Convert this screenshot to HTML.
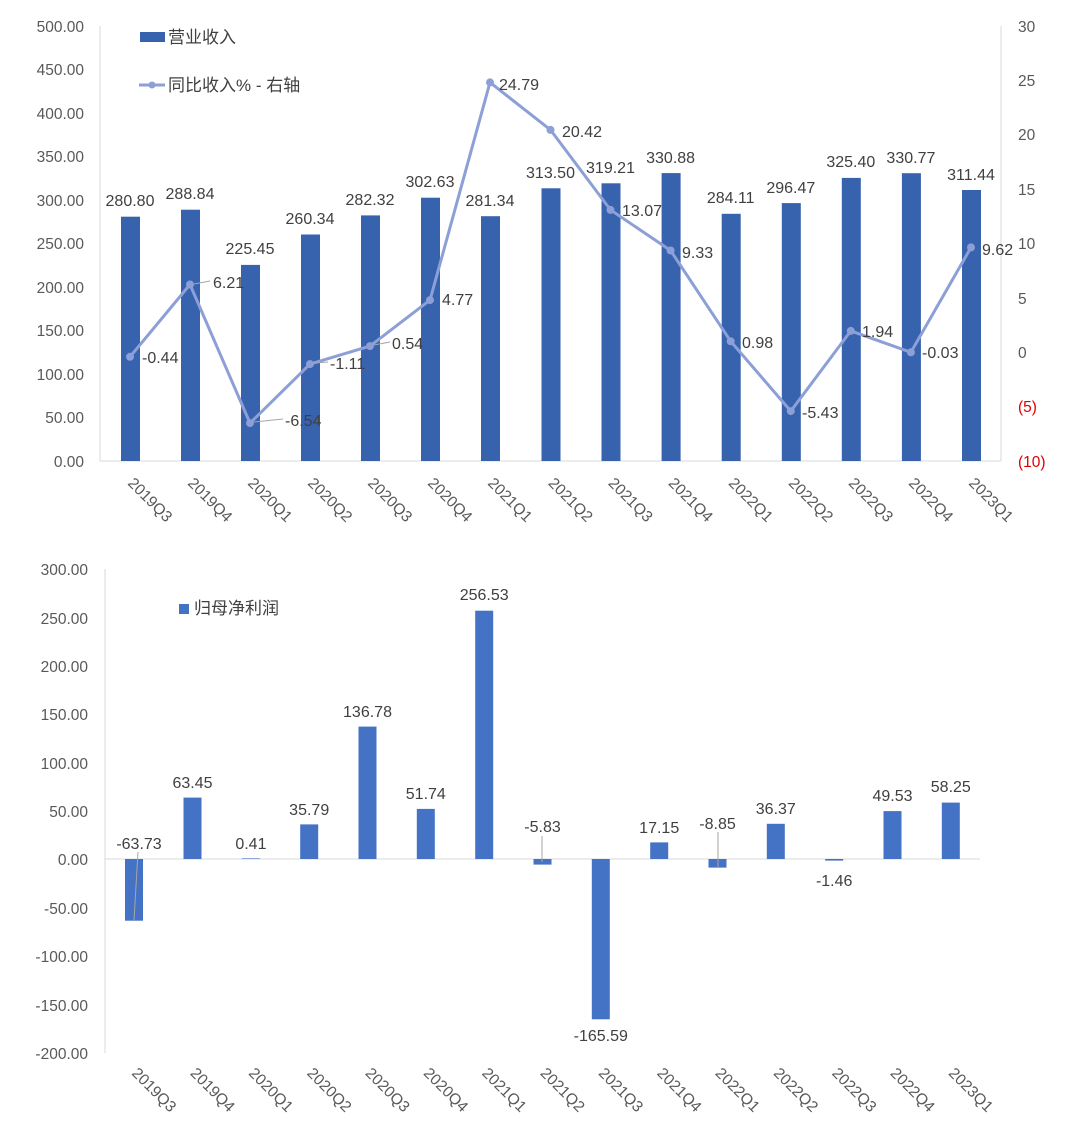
<!DOCTYPE html>
<html><head><meta charset="utf-8"><style>
html,body{margin:0;padding:0;background:#fff;}
svg{display:block;font-family:"Liberation Sans","Noto Sans CJK SC",sans-serif;}
.t{fill:#404040;font-size:16px;}
.ax{fill:#595959;font-size:15.5px;}
</style></head><body>
<svg width="1080" height="1130" viewBox="0 0 1080 1130" xmlns="http://www.w3.org/2000/svg">
<!-- TOP CHART -->
<line x1="100" y1="26" x2="100" y2="461" stroke="#d9d9d9"/>
<line x1="1001" y1="26" x2="1001" y2="461" stroke="#d9d9d9"/>
<line x1="100" y1="461" x2="1001" y2="461" stroke="#d9d9d9"/>
<g class="ax" text-anchor="end">
<text x="84" y="32">500.00</text><text x="84" y="75">450.00</text><text x="84" y="119">400.00</text><text x="84" y="162">350.00</text><text x="84" y="206">300.00</text><text x="84" y="249">250.00</text><text x="84" y="293">200.00</text><text x="84" y="336">150.00</text><text x="84" y="380">100.00</text><text x="84" y="423">50.00</text><text x="84" y="467">0.00</text>
</g>
<g class="ax">
<text x="1018" y="32">30</text><text x="1018" y="86">25</text><text x="1018" y="140">20</text><text x="1018" y="195">15</text><text x="1018" y="249">10</text><text x="1018" y="304">5</text><text x="1018" y="358">0</text>
<text x="1018" y="412" fill="#e00000">(5)</text><text x="1018" y="467" fill="#e00000">(10)</text>
</g>
<g fill="#3762AE">
<rect x="121" y="216.7" width="19" height="244.3"/>
<rect x="181" y="209.7" width="19" height="251.3"/>
<rect x="241" y="264.9" width="19" height="196.1"/>
<rect x="301" y="234.5" width="19" height="226.5"/>
<rect x="361" y="215.4" width="19" height="245.6"/>
<rect x="421" y="197.7" width="19" height="263.3"/>
<rect x="481" y="216.2" width="19" height="244.8"/>
<rect x="541.5" y="188.3" width="19" height="272.7"/>
<rect x="601.5" y="183.3" width="19" height="277.7"/>
<rect x="661.6" y="173.1" width="19" height="287.9"/>
<rect x="721.7" y="213.8" width="19" height="247.2"/>
<rect x="781.8" y="203.1" width="19" height="257.9"/>
<rect x="841.8" y="177.9" width="19" height="283.1"/>
<rect x="901.9" y="173.2" width="19" height="287.8"/>
<rect x="962" y="190" width="19" height="271"/>
</g>
<g class="t" text-anchor="middle">
<text x="130" y="206">280.80</text><text x="190" y="199">288.84</text><text x="250" y="254">225.45</text><text x="310" y="224">260.34</text><text x="370" y="205">282.32</text><text x="430" y="187">302.63</text><text x="490" y="206">281.34</text><text x="550.5" y="178">313.50</text><text x="610.5" y="173">319.21</text><text x="670.6" y="163">330.88</text><text x="730.7" y="203">284.11</text><text x="790.8" y="193">296.47</text><text x="850.8" y="167">325.40</text><text x="910.9" y="163">330.77</text><text x="971" y="180">311.44</text>
</g>
<polyline fill="none" stroke="#8C9FD6" stroke-width="3" stroke-linejoin="round" points="130,356.8 190,284.5 250,423.1 310,364.1 370,346.1 430,300.1 490,82.4 550.5,129.9 610.5,209.9 670.6,250.5 730.7,341.3 790.8,411.1 850.8,330.9 910.9,352.3 971,247.4"/>
<g fill="#8C9FD6">
<circle cx="130" cy="356.8" r="4"/><circle cx="190" cy="284.5" r="4"/><circle cx="250" cy="423.1" r="4"/><circle cx="310" cy="364.1" r="4"/><circle cx="370" cy="346.1" r="4"/><circle cx="430" cy="300.1" r="4"/><circle cx="490" cy="82.4" r="4"/><circle cx="550.5" cy="129.9" r="4"/><circle cx="610.5" cy="209.9" r="4"/><circle cx="670.6" cy="250.5" r="4"/><circle cx="730.7" cy="341.3" r="4"/><circle cx="790.8" cy="411.1" r="4"/><circle cx="850.8" cy="330.9" r="4"/><circle cx="910.9" cy="352.3" r="4"/><circle cx="971" cy="247.4" r="4"/>
</g>
<g stroke="#a6a6a6" fill="none"><line x1="194" y1="284" x2="210" y2="281"/><line x1="254" y1="422" x2="283" y2="419"/><line x1="314" y1="363" x2="328" y2="362"/><line x1="374" y1="345" x2="390" y2="342"/></g>
<g class="t">
<text x="142" y="363">-0.44</text><text x="213" y="288">6.21</text><text x="285" y="426">-6.54</text><text x="330" y="369">-1.11</text><text x="392" y="349">0.54</text><text x="442" y="305">4.77</text><text x="499" y="90">24.79</text><text x="562" y="137">20.42</text><text x="622" y="216">13.07</text><text x="682" y="258">9.33</text><text x="742" y="348">0.98</text><text x="802" y="418">-5.43</text><text x="862" y="337">1.94</text><text x="922" y="358">-0.03</text><text x="982" y="255">9.62</text>
</g>
<g class="ax">
<text transform="translate(127,484) rotate(45)">2019Q3</text>
<text transform="translate(187,484) rotate(45)">2019Q4</text>
<text transform="translate(247,484) rotate(45)">2020Q1</text>
<text transform="translate(307,484) rotate(45)">2020Q2</text>
<text transform="translate(367,484) rotate(45)">2020Q3</text>
<text transform="translate(427,484) rotate(45)">2020Q4</text>
<text transform="translate(487,484) rotate(45)">2021Q1</text>
<text transform="translate(547.5,484) rotate(45)">2021Q2</text>
<text transform="translate(607.5,484) rotate(45)">2021Q3</text>
<text transform="translate(667.6,484) rotate(45)">2021Q4</text>
<text transform="translate(727.7,484) rotate(45)">2022Q1</text>
<text transform="translate(787.8,484) rotate(45)">2022Q2</text>
<text transform="translate(847.8,484) rotate(45)">2022Q3</text>
<text transform="translate(907.9,484) rotate(45)">2022Q4</text>
<text transform="translate(968,484) rotate(45)">2023Q1</text>
</g>
<rect x="140" y="32" width="25" height="10" fill="#3762AE"/>
<text x="168" y="43" class="t" style="font-size:17px">营业收入</text>
<line x1="139" y1="85" x2="165" y2="85" stroke="#8C9FD6" stroke-width="3"/><circle cx="152" cy="85" r="3.5" fill="#8C9FD6"/>
<text x="168" y="91" class="t" style="font-size:17px">同比收入% - 右轴</text>

<!-- BOTTOM CHART -->
<line x1="105" y1="569" x2="105" y2="1053" stroke="#d9d9d9"/>
<line x1="105" y1="859" x2="980" y2="859" stroke="#d9d9d9"/>
<g class="ax" text-anchor="end">
<text x="88" y="575">300.00</text><text x="88" y="624">250.00</text><text x="88" y="672">200.00</text><text x="88" y="720">150.00</text><text x="88" y="769">100.00</text><text x="88" y="817">50.00</text><text x="88" y="865">0.00</text><text x="88" y="914">-50.00</text><text x="88" y="962">-100.00</text><text x="88" y="1011">-150.00</text><text x="88" y="1059">-200.00</text>
</g>
<g fill="#4472C4">
<rect x="125" y="859" width="18" height="61.7"/>
<rect x="183.5" y="797.6" width="18" height="61.4"/>
<rect x="241.9" y="858.4" width="18" height="0.6"/>
<rect x="300.2" y="824.4" width="18" height="34.6"/>
<rect x="358.5" y="726.6" width="18" height="132.4"/>
<rect x="416.8" y="808.9" width="18" height="50.1"/>
<rect x="475.2" y="610.7" width="18" height="248.3"/>
<rect x="533.5" y="859" width="18" height="5.6"/>
<rect x="591.8" y="859" width="18" height="160.3"/>
<rect x="650.2" y="842.4" width="18" height="16.6"/>
<rect x="708.5" y="859" width="18" height="8.6"/>
<rect x="766.8" y="823.8" width="18" height="35.2"/>
<rect x="825.2" y="859" width="18" height="1.6"/>
<rect x="883.5" y="811.1" width="18" height="47.9"/>
<rect x="941.8" y="802.6" width="18" height="56.4"/>
</g>
<g stroke="#a6a6a6"><line x1="138" y1="852" x2="134" y2="920"/><line x1="718" y1="832" x2="718" y2="867"/><line x1="542" y1="836" x2="542" y2="862"/></g>
<g class="t" text-anchor="middle">
<text x="139" y="849">-63.73</text><text x="192.5" y="788">63.45</text><text x="250.9" y="849">0.41</text><text x="309.2" y="815">35.79</text><text x="367.5" y="717">136.78</text><text x="425.8" y="799">51.74</text><text x="484.2" y="600">256.53</text><text x="542.5" y="832">-5.83</text><text x="600.8" y="1041">-165.59</text><text x="659.2" y="833">17.15</text><text x="717.5" y="829">-8.85</text><text x="775.8" y="814">36.37</text><text x="834.2" y="886">-1.46</text><text x="892.5" y="801">49.53</text><text x="950.8" y="792">58.25</text>
</g>
<g class="ax">
<text transform="translate(131,1074) rotate(45)">2019Q3</text>
<text transform="translate(189.5,1074) rotate(45)">2019Q4</text>
<text transform="translate(247.9,1074) rotate(45)">2020Q1</text>
<text transform="translate(306.2,1074) rotate(45)">2020Q2</text>
<text transform="translate(364.5,1074) rotate(45)">2020Q3</text>
<text transform="translate(422.8,1074) rotate(45)">2020Q4</text>
<text transform="translate(481.2,1074) rotate(45)">2021Q1</text>
<text transform="translate(539.5,1074) rotate(45)">2021Q2</text>
<text transform="translate(597.8,1074) rotate(45)">2021Q3</text>
<text transform="translate(656.2,1074) rotate(45)">2021Q4</text>
<text transform="translate(714.5,1074) rotate(45)">2022Q1</text>
<text transform="translate(772.8,1074) rotate(45)">2022Q2</text>
<text transform="translate(831.2,1074) rotate(45)">2022Q3</text>
<text transform="translate(889.5,1074) rotate(45)">2022Q4</text>
<text transform="translate(947.8,1074) rotate(45)">2023Q1</text>
</g>
<rect x="179" y="604" width="10" height="10" fill="#4472C4"/>
<text x="194" y="614" class="t" style="font-size:17px">归母净利润</text>
</svg>
</body></html>
